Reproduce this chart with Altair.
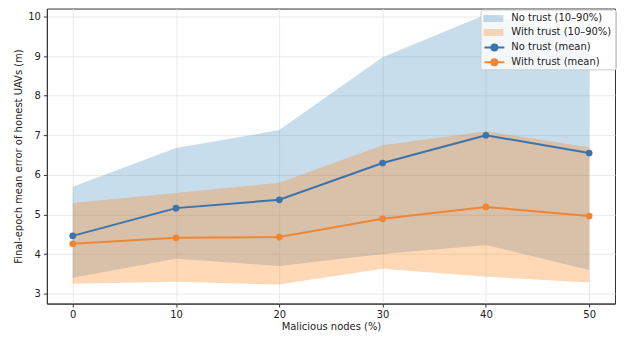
import altair as alt
import pandas as pd

x_vals = [0, 10, 20, 30, 40, 50]
nt_mean = [4.46, 5.16, 5.37, 6.30, 7.00, 6.55]
wt_mean = [4.26, 4.41, 4.43, 4.89, 5.19, 4.96]
nt_p10 = [3.40, 3.88, 3.70, 4.00, 4.23, 3.60]
nt_p90 = [5.70, 6.68, 7.13, 8.97, 10.05, 9.50]
wt_p10 = [3.25, 3.30, 3.23, 3.63, 3.43, 3.28]
wt_p90 = [5.29, 5.54, 5.80, 6.75, 7.10, 6.70]

band_names = ["No trust (10–90%)", "With trust (10–90%)"]
mean_names = ["No trust (mean)", "With trust (mean)"]

rows_band = []
for lo, hi, name in [(nt_p10, nt_p90, band_names[0]), (wt_p10, wt_p90, band_names[1])]:
    for xv, l, h in zip(x_vals, lo, hi):
        rows_band.append({"x": xv, "lo": l, "hi": h, "series": name})
band_df = pd.DataFrame(rows_band)

rows_mean = []
for m, name in [(nt_mean, mean_names[0]), (wt_mean, mean_names[1])]:
    for xv, v in zip(x_vals, m):
        rows_mean.append({"x": xv, "mean": v, "series": name})
mean_df = pd.DataFrame(rows_mean)

xscale = alt.Scale(domain=[-2.5, 52.5], nice=False, zero=False)
yscale = alt.Scale(domain=[2.75, 10.2], nice=False, zero=False)

xaxis = alt.Axis(title="Malicious nodes (%)", values=x_vals, format="d", grid=True,
                 tickSize=3.5, labelPadding=2, titlePadding=3)
yaxis = alt.Axis(title="Final-epoch mean error of honest UAVs (m)", values=[3, 4, 5, 6, 7, 8, 9, 10],
                 format="d", grid=True, tickSize=3.5, labelPadding=3, titlePadding=4)

# The band legend also provides the framed legend box (extended downward by an
# invisible bottom title so that it encloses the line legend too).
bands = alt.Chart(band_df).mark_area(opacity=1).encode(
    x=alt.X("x:Q", scale=xscale, axis=xaxis),
    y=alt.Y("lo:Q", scale=yscale, axis=yaxis),
    y2="hi:Q",
    fill=alt.Fill("series:N",
                  scale=alt.Scale(domain=band_names,
                                  range=["rgba(31,119,180,0.25)", "rgba(255,127,14,0.3)"]),
                  legend=alt.Legend(title="\u00a0", titleOrient="bottom", titleFontSize=20,
                                    titlePadding=8, titleColor="rgba(0,0,0,0)",
                                    orient="none", legendX=435, legendY=1,
                                    fillColor="rgba(255,255,255,0.8)", strokeColor="#cccccc",
                                    cornerRadius=2, padding=4, zindex=1,
                                    symbolType="M-1.2,-0.7H2.8V0.7H-1.2Z", symbolSize=100,
                                    symbolStrokeWidth=0, labelOffset=17, rowPadding=4,
                                    labelFontSize=10)),
)

lines = alt.Chart(mean_df).mark_line(strokeWidth=2, point=alt.OverlayMarkDef(filled=True, size=45, opacity=1)).encode(
    x=alt.X("x:Q", scale=xscale),
    y=alt.Y("mean:Q", scale=yscale),
    color=alt.Color("series:N",
                    scale=alt.Scale(domain=mean_names, range=["#3b73ad", "#ef8636"]),
                    legend=alt.Legend(title=None, orient="none", legendX=443, legendY=33, zindex=2,
                                      symbolType="M-2,0H2M0.6,0A0.6,0.6 0 1,1 -0.6,0A0.6,0.6 0 1,1 0.6,0M0.4,0A0.4,0.4 0 1,1 -0.4,0A0.4,0.4 0 1,1 0.4,0M0.2,0A0.2,0.2 0 1,1 -0.2,0A0.2,0.2 0 1,1 0.2,0",
                                      symbolSize=100, symbolStrokeWidth=2, labelOffset=11,
                                      rowPadding=1, padding=0, labelFontSize=10)),
)

chart = alt.layer(bands, lines).resolve_legend(
    fill="independent", color="independent").properties(
    width=570, height=296,
    autosize=alt.AutoSizeParams(type="none"),
    padding={"left": 39, "top": 0, "right": 2, "bottom": 33},
).configure_view(stroke="#333333", strokeWidth=1).configure_axis(
    labelFont="DejaVu Sans", titleFont="DejaVu Sans", labelFontSize=10, titleFontSize=10,
    titleFontWeight="normal", labelColor="#222222", titleColor="#222222",
    gridColor="#e5e5e5", gridWidth=0.8, domainColor="#333333", tickColor="#333333",
).configure_legend(labelFont="DejaVu Sans", labelColor="#222222")

chart.save("out.html", embed_options={"renderer": "svg", "actions": False})
